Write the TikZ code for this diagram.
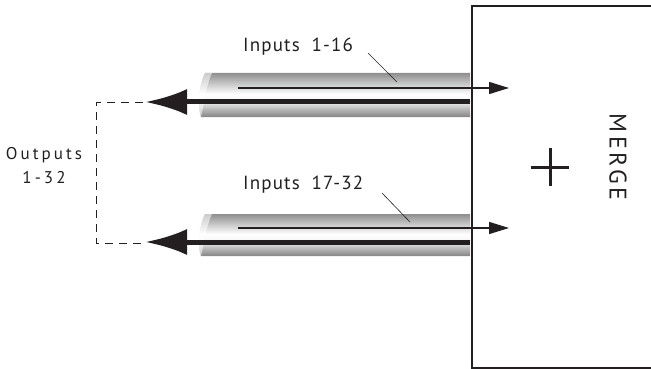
\documentclass[tikz,border=0pt]{standalone}
\usepackage{fontspec}
\setmainfont[LetterSpace=6]{PT Sans}
\usetikzlibrary{arrows.meta}
\pgfdeclareverticalshading{tubeshade}{100bp}{
  color(0bp)=(black!48);
  color(25bp)=(black!48);
  color(34bp)=(black!28);
  color(43bp)=(black!4);
  color(51bp)=(white);
  color(62bp)=(black!20);
  color(75bp)=(black!44);
  color(100bp)=(black!44)}
\definecolor{ink}{HTML}{231F20}
\tikzset{
  lbl/.style={inner sep=0pt, font=\fontsize{19}{22}\selectfont, text=ink},
  outlbl/.style={inner sep=0pt, font=\fontsize{17}{20}\selectfont\addfontfeature{LetterSpace=18}, text=ink},
  biglbl/.style={inner sep=0pt, font=\fontsize{24}{26}\selectfont\addfontfeature{LetterSpace=15}, text=ink},
  thinarrow/.style={draw=ink, line width=1.5pt, -{Triangle[length=20pt,width=12pt]}},
  thickarrow/.style={draw=ink, line width=5pt, -{Latex[length=42pt,width=26pt]}},
  leader/.style={draw=ink, line width=0.6pt},
  tube/.style={shading=tubeshade},
  dashline/.style={draw=ink, line width=1pt, dash pattern=on 8pt off 6pt}
}
\begin{document}
\begin{tikzpicture}[x=1pt,y=-1pt]
\useasboundingbox (0,0) rectangle (651,369);
% tube 1
\shade[tube] (205,73) .. controls (199,85) and (197,105) .. (201,117) -- (470,117) -- (470,73) -- cycle;
\fill[white,opacity=0.55] (205,73) .. controls (199,85) and (197,105) .. (201,117) .. controls (204,105) and (206,85) .. (212,73) -- cycle;
% tube 2
\shade[tube] (205,214) .. controls (199,226) and (197,245) .. (201,256) -- (470,256) -- (470,214) -- cycle;
\fill[white,opacity=0.55] (205,214) .. controls (199,226) and (197,245) .. (201,256) .. controls (204,245) and (206,226) .. (212,214) -- cycle;

% coordinates
\coordinate (t1s) at (238,88);
\coordinate (t1e) at (509,88);
\coordinate (k1s) at (470,102);
\coordinate (k1e) at (145,102);
\coordinate (t2s) at (238,228);
\coordinate (t2e) at (509,228);
\coordinate (k2s) at (470,242);
\coordinate (k2e) at (145,242);

\draw[thinarrow] (t1s) -- (t1e);
\draw[thickarrow] (k1s) -- (k1e);
\draw[thinarrow] (t2s) -- (t2e);
\draw[thickarrow] (k2s) -- (k2e);

% merge box
\draw[ink, line width=1.5pt] (660,6) -- (472,6) -- (472,368) -- (660,368);
\node[biglbl, rotate=-90] (merge) at (618,157) {MERGE};
\draw[ink, line width=3pt] (531,167) -- (569,167) (550,148) -- (550,186);

% labels
\node[lbl, anchor=west] (in1) at (243,47) {Inputs\hspace{0.3em} 1-16};
\node[lbl, anchor=west] (in2) at (243,185) {Inputs\hspace{0.3em} 17-32};
\coordinate (l1a) at (368,53);
\coordinate (l1b) at (397,82);
\coordinate (l2a) at (382,193);
\coordinate (l2b) at (410,222);
\draw[leader] (l1a) -- (l1b);
\draw[leader] (l2a) -- (l2b);

% dashed outputs
\coordinate (d1) at (96,103);
\coordinate (d2) at (96,243);
\draw[dashline] (143,103) -- (d1) -- (d2) -- (143,243);
\node[outlbl, align=center] (out) at (44,166) {Outputs\\[4pt] 1-32};
\end{tikzpicture}
\end{document}
